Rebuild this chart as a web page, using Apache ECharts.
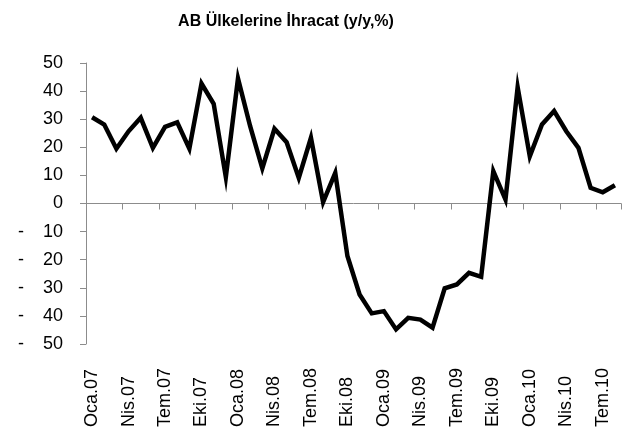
<!DOCTYPE html>
<html>
<head>
<meta charset="utf-8">
<script src="https://cdn.jsdelivr.net/npm/echarts@6/dist/echarts.min.js"></script>
<style>html,body{margin:0;padding:0;background:#fff}#c{width:622px;height:440px}</style>
</head>
<body>
<div id="c"></div>
<script>
var titleText = 'AB Ülkelerine İhracat (y/y,%)';
var months = ['Oca','Şub','Mar','Nis','May','Haz','Tem','Ağu','Eyl','Eki','Kas','Ara'];
var years = ['07','08','09','10'];
var categories = [];
for (var y = 0; y < years.length; y++) {
  for (var m = 0; m < 12; m++) {
    if (y === 3 && m > 7) break;
    categories.push(months[m] + '.' + years[y]);
  }
}
var values = [
  30.7, 28.1, 19.5, 25.7, 30.5, 19.8, 27.3, 28.9, 19.5, 42.7, 35.5, 9.4,
  44.5, 27.5, 12.5, 26.6, 21.8, 9.1, 23.4, 0.5, 10.9, -18.7, -32.4, -39.1,
  -38.3, -44.8, -40.7, -41.3, -44.2, -30.2, -28.8, -24.7, -26.1, 11.5, 1.4, 41.4,
  16.8, 28.1, 32.9, 25.7, 19.8, 5.6, 4.0, 6.5
];
var yMin = -50, yMax = 50, yStep = 10;

var chart = echarts.init(document.getElementById('c'), null, {renderer: 'canvas'});
var FONT = 'Liberation Sans';
chart.setOption({
  animation: false,
  backgroundColor: '#ffffff',
  title: {
    text: titleText,
    left: 281, top: 9, textAlign: 'center',
    textStyle: {fontFamily: FONT, fontSize: 16, fontWeight: 'bold', color: '#000'}
  },
  grid: {left: 86, right: 1, top: 63, bottom: 96, containLabel: false},
  xAxis: [{
    type: 'category', data: categories, boundaryGap: true,
    axisLine: {onZero: true, lineStyle: {color: '#8c8c8c', width: 1}},
    axisTick: {show: true, interval: 2, length: 6, inside: false, lineStyle: {color: '#8c8c8c'}},
    axisLabel: {show: false},
    splitLine: {show: false}
  }, {
    type: 'category', data: categories, boundaryGap: true, position: 'bottom',
    axisLine: {show: false, onZero: false},
    axisTick: {show: false},
    axisLabel: {
      show: true, interval: 2, rotate: 90, align: 'left', margin: 83,
      fontFamily: FONT, fontSize: 18, color: '#000', padding: [5, 0, 0, 0]
    },
    splitLine: {show: false}
  }],
  yAxis: {
    type: 'value', min: yMin, max: yMax, interval: yStep,
    axisLine: {show: true, lineStyle: {color: '#8c8c8c', width: 1}},
    axisTick: {show: true, length: 6, inside: false, lineStyle: {color: '#8c8c8c'}},
    splitLine: {show: false},
    axisLabel: {
      margin: 23, fontFamily: FONT, fontSize: 18, color: '#000',
      formatter: function (v) {
        if (v < 0) return '{m|-}{n|' + Math.abs(v) + '}';
        return '{n|' + v + '}';
      },
      rich: {
        m: {width: 25, align: 'left', fontFamily: FONT, fontSize: 18, color: '#000'},
        n: {fontFamily: FONT, fontSize: 18, color: '#000'}
      }
    }
  },
  series: [{
    type: 'line', data: values, xAxisIndex: 0,
    symbol: 'none', smooth: false,
    lineStyle: {color: '#000', width: 4.5, join: 'miter', cap: 'butt'}
  }]
});
</script>
</body>
</html>
